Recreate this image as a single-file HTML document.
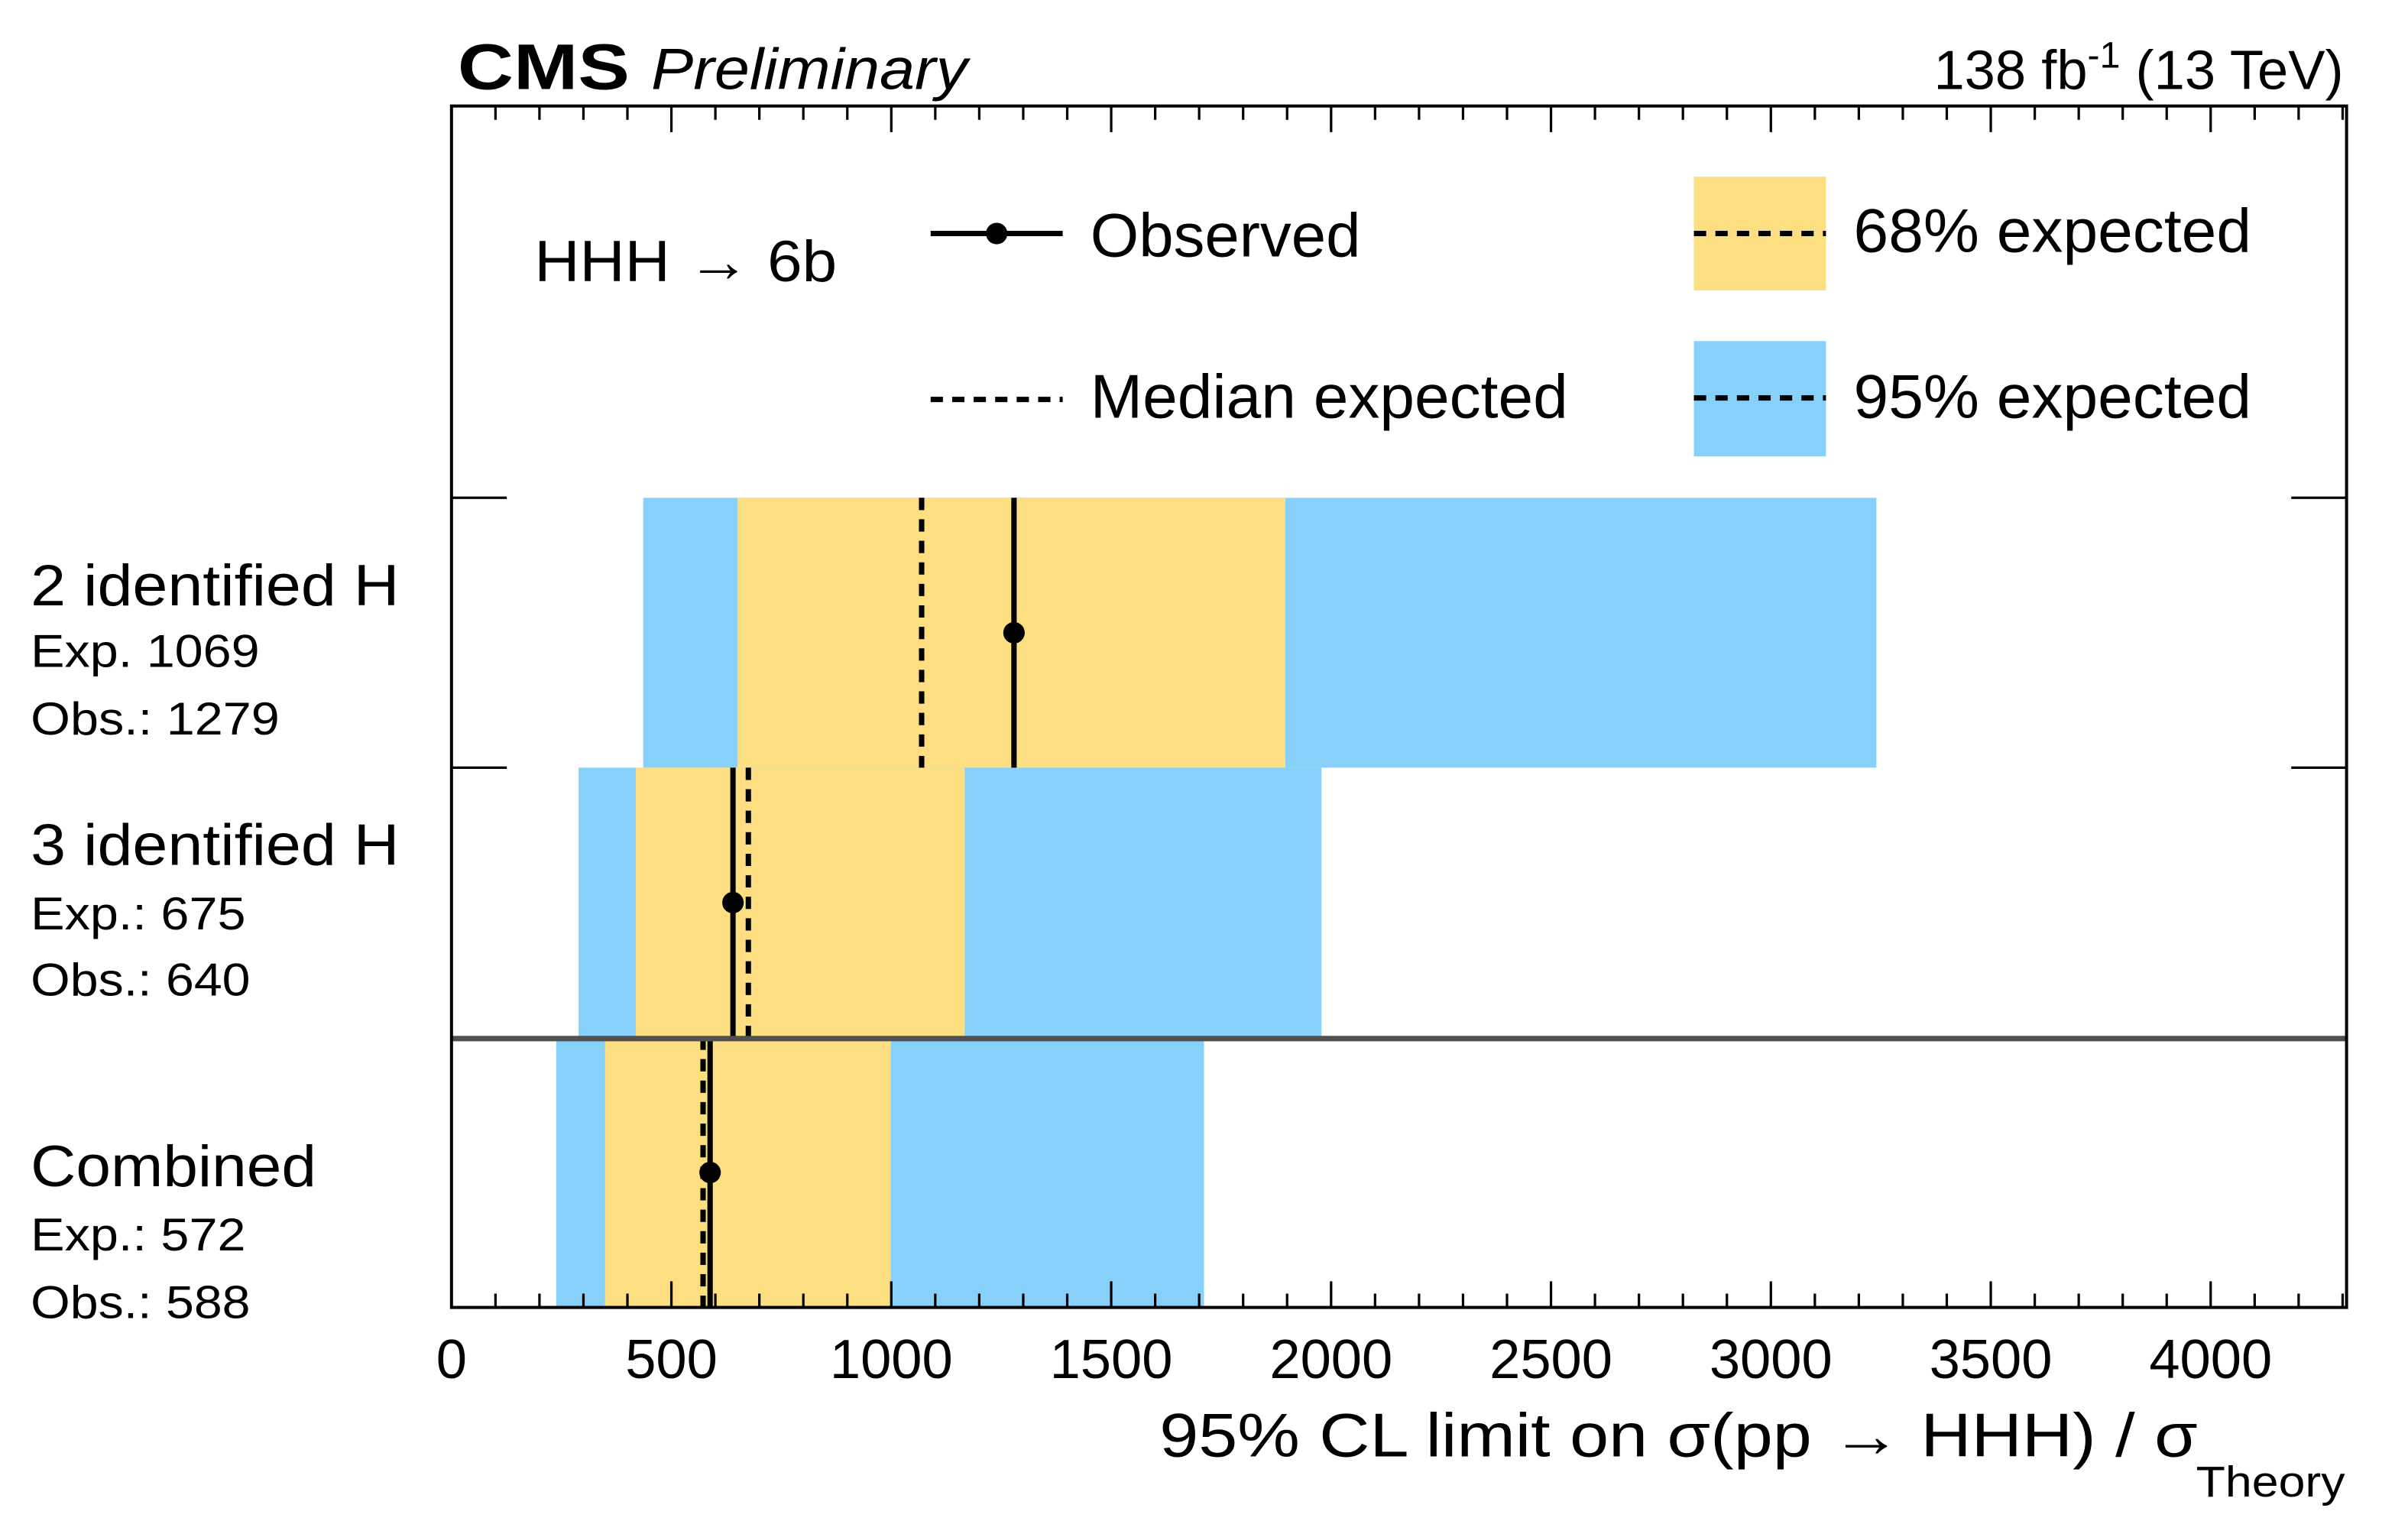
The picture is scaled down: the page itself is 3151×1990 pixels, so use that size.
<!DOCTYPE html>
<html><head><meta charset="utf-8"><style>
html,body{margin:0;padding:0;background:#fff;}
svg{display:block;font-family:"Liberation Sans",Arial,sans-serif;}
</style></head><body>
<svg id="chart" width="3151" height="1990" viewBox="0 0 1568 990" preserveAspectRatio="none" xmlns="http://www.w3.org/2000/svg">
<g id="bands"></g>
<g id="lines"></g>
<line x1="294" y1="676" x2="1528" y2="676" stroke="#505050" stroke-width="3.5"/>
<rect x="294" y="69" width="1234" height="782" fill="none" stroke="#000" stroke-width="2"/>
<g id="ticks" stroke="#000" stroke-width="1.6"></g>
<g id="ticklabels" font-size="36" text-anchor="middle"></g>
<text x="298" y="58" font-size="42" font-weight="bold" textLength="112" lengthAdjust="spacingAndGlyphs">CMS</text>
<text x="424" y="58" font-size="38" font-style="italic" textLength="206" lengthAdjust="spacingAndGlyphs">Preliminary</text>
<text x="1526" y="58" font-size="36" text-anchor="end">138 fb<tspan font-size="24" dy="-14">-1</tspan><tspan dy="14"> (13 TeV)</tspan></text>
<text x="348" y="183" font-size="38" textLength="197" lengthAdjust="spacingAndGlyphs">HHH → 6b</text>
<g>
<line x1="606" y1="152" x2="692" y2="152" stroke="#000" stroke-width="3.5"/>
<circle cx="649" cy="152" r="7"/>
<text x="710" y="167" font-size="40" textLength="176" lengthAdjust="spacingAndGlyphs">Observed</text>
<line x1="606" y1="260" x2="692" y2="260" stroke="#000" stroke-width="3.5" stroke-dasharray="8,6"/>
<text x="710" y="272" font-size="40" textLength="311" lengthAdjust="spacingAndGlyphs">Median expected</text>
<rect x="1103" y="115" width="86" height="74" fill="#FDDE81"/>
<line x1="1103" y1="152" x2="1189" y2="152" stroke="#000" stroke-width="3.5" stroke-dasharray="8,6"/>
<text x="1207" y="164" font-size="40" textLength="259" lengthAdjust="spacingAndGlyphs">68% expected</text>
<rect x="1103" y="222" width="86" height="75" fill="#87D0FA"/>
<line x1="1103" y1="259" x2="1189" y2="259" stroke="#000" stroke-width="3.5" stroke-dasharray="8,6"/>
<text x="1207" y="272" font-size="40" textLength="259" lengthAdjust="spacingAndGlyphs">95% expected</text>
</g>
<g>
<text x="20" y="394" font-size="38" textLength="240" lengthAdjust="spacingAndGlyphs">2 identified H</text>
<text x="20" y="434" font-size="30" textLength="149" lengthAdjust="spacingAndGlyphs">Exp. 1069</text>
<text x="20" y="478" font-size="30" textLength="162" lengthAdjust="spacingAndGlyphs">Obs.: 1279</text>
<text x="20" y="563" font-size="38" textLength="240" lengthAdjust="spacingAndGlyphs">3 identified H</text>
<text x="20" y="605" font-size="30" textLength="140" lengthAdjust="spacingAndGlyphs">Exp.: 675</text>
<text x="20" y="648" font-size="30" textLength="143" lengthAdjust="spacingAndGlyphs">Obs.: 640</text>
<text x="20" y="772" font-size="38" textLength="186" lengthAdjust="spacingAndGlyphs">Combined</text>
<text x="20" y="814" font-size="30" textLength="140" lengthAdjust="spacingAndGlyphs">Exp.: 572</text>
<text x="20" y="858" font-size="30" textLength="143" lengthAdjust="spacingAndGlyphs">Obs.: 588</text>
</g>
<text x="755" y="948" font-size="40" textLength="676" lengthAdjust="spacingAndGlyphs">95% CL limit on σ(pp → HHH) / σ</text>
<text x="1430" y="974" font-size="28" textLength="97" lengthAdjust="spacingAndGlyphs">Theory</text>
</svg>
<script>
const categories = ["2 identified H", "3 identified H", "Combined"];
const expected = [1069, 675, 572];
const observed = [1279, 640, 588];
const lo95 = [436, 289, 238];
const hi95 = [3240, 1978, 1711];
const lo68 = [650, 419, 349];
const hi68 = [1896, 1167, 999];
const xTicks = [0, 500, 1000, 1500, 2000, 2500, 3000, 3500, 4000];
const xTickLabels = ["0", "500", "1000", "1500", "2000", "2500", "3000", "3500", "4000"];
const XMIN = 0, XMAX = 4309;
const PL = 294, PR = 1528, PT = 69, PB = 851;
const ROW0 = 324, ROWH = (PB - ROW0) / 3;
function xs(v){ return PL + (v - XMIN) / (XMAX - XMIN) * (PR - PL); }
function rowTop(i){ return ROW0 + i * ROWH; }
const NS = "http://www.w3.org/2000/svg";
function mk(tag, attrs, parent){ const e = document.createElementNS(NS, tag); for (const k in attrs) e.setAttribute(k, attrs[k]); parent.appendChild(e); return e; }
const bands = document.getElementById('bands');
const lines = document.getElementById('lines');
categories.forEach((c, i) => {
  const t = rowTop(i), b = t + ROWH, m = t + ROWH / 2;
  const r95 = mk('rect', {x: xs(lo95[i]), y: t, width: xs(hi95[i]) - xs(lo95[i]), height: ROWH, fill: '#87D0FA'}, bands);
  
  
  const r68 = mk('rect', {x: xs(lo68[i]), y: t, width: xs(hi68[i]) - xs(lo68[i]), height: ROWH, fill: '#FDDE81'}, bands);
  
  
  const le = mk('line', {x1: xs(expected[i]), x2: xs(expected[i]), y1: t, y2: b, stroke: '#000', 'stroke-width': 3.5, 'stroke-dasharray': '8,6'}, lines);
  
  
  const lo = mk('line', {x1: xs(observed[i]), x2: xs(observed[i]), y1: t, y2: b, stroke: '#000', 'stroke-width': 3.5}, lines);
  
  
  const d = mk('circle', {cx: xs(observed[i]), cy: m, r: 7, fill: '#000'}, lines);
  
  
});
const tk = document.getElementById('ticks');
for (let v = 0; v <= XMAX; v += 100) {
  const major = v % 500 === 0;
  const L = major ? 17 : 9;
  const x = xs(v);
  const t1 = mk('line', {x1: x, x2: x, y1: PB, y2: PB - L}, tk);
  
  
  const t2 = mk('line', {x1: x, x2: x, y1: PT, y2: PT + L}, tk);
  
  
}
[1, 2].forEach(k => {
  const y = ROW0 + (k - 1) * ROWH;
  const a = mk('line', {x1: PL, x2: PL + 36, y1: y, y2: y}, tk);
  
  
  const b2 = mk('line', {x1: PR - 36, x2: PR, y1: y, y2: y}, tk);
  
  
});
const tl = document.getElementById('ticklabels');
xTicks.forEach((v, i) => {
  const t = mk('text', {x: xs(v), y: 897}, tl);
  t.textContent = xTickLabels[i];
  
  
});
</script>
</body></html>
